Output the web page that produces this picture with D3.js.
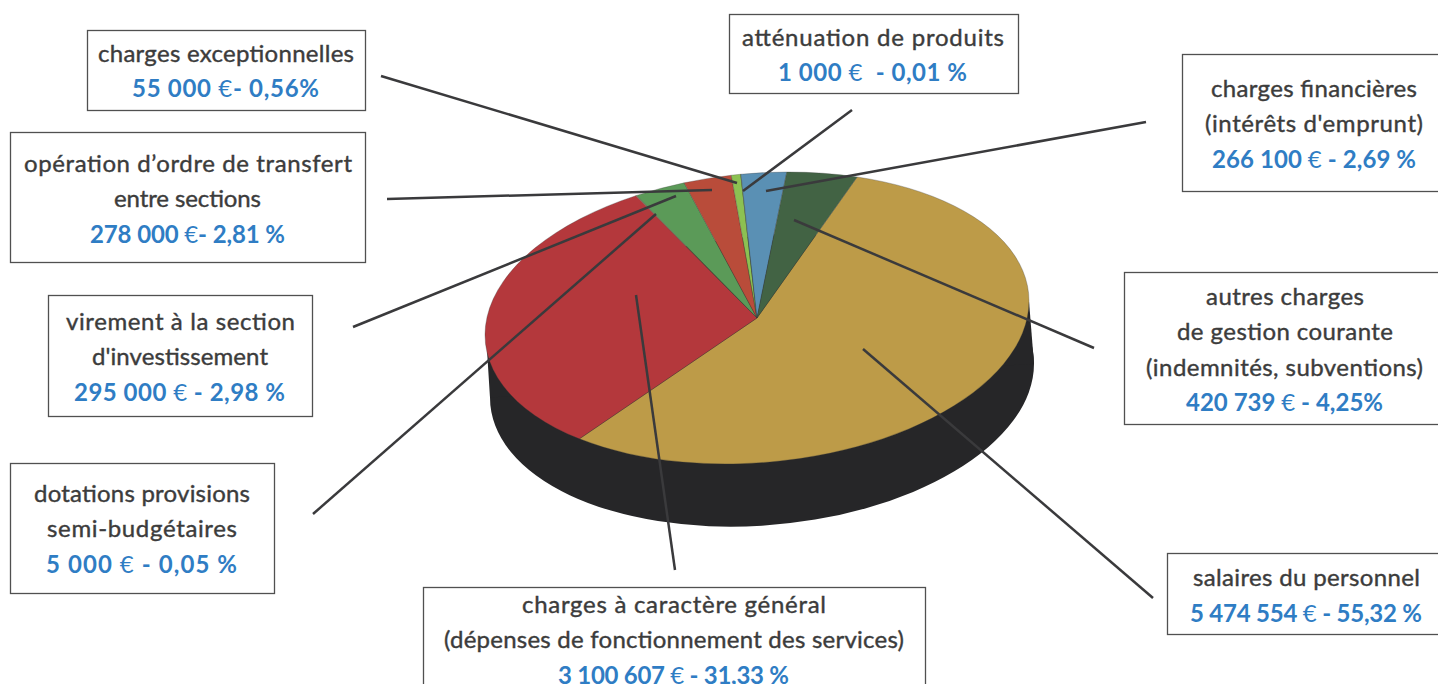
<!DOCTYPE html>
<html>
<head>
<meta charset="utf-8">
<script src="https://d3js.org/d3.v7.min.js"></script>
<style>
html, body { margin: 0; padding: 0; background: #fff; overflow: hidden; }
text { font-family: Lato, "Open Sans", sans-serif; text-anchor: middle; white-space: pre; }
</style>
</head>
<body>
<svg id="chart" width="1438" height="684"></svg>
<script>
// Slices, clockwise from the gold one
var categories = [
    "salaires du personnel",
    "charges à caractère général",
    "dotations provisions semi-budgétaires",
    "virement à la section d'investissement",
    "opération d'ordre de transfert entre sections",
    "charges exceptionnelles",
    "atténuation de produits",
    "charges financières",
    "autres charges de gestion courante"
];
var values = [5474554, 3100607, 5000, 295000, 278000, 55000, 1000, 266100, 420739];
var colors = ["#bd9b48", "#b4383c", "#a5824f", "#5b9a58", "#b94c3a", "#8cc152", "#8cc152", "#5a90b4", "#426344"];

// Text of each label box, same order as the slices
var titles = [
    ["salaires du personnel"],
    ["charges à caractère général", "(dépenses de fonctionnement des services)"],
    ["dotations provisions", "semi-budgétaires"],
    ["virement à la section", "d'investissement"],
    ["opération d’ordre de transfert", "entre sections"],
    ["charges exceptionnelles"],
    ["atténuation de produits"],
    ["charges financières", "(intérêts d'emprunt)"],
    ["autres charges", "de gestion courante", "(indemnités, subventions)"]
];
var amounts = [
    "5 474 554 € - 55,32 %",
    "3 100 607 € - 31,33 %",
    "5 000 € - 0,05 %",
    "295 000 € - 2,98 %",
    "278 000 €- 2,81 %",
    "55 000 €- 0,56%",
    "1 000 €  - 0,01 %",
    "266 100 € - 2,69 %",
    "420 739 € - 4,25%"
];

// Box placement: x0, y0, x1, y1, first baseline
var boxes = [
    [1167, 553, 1445, 634, 586],
    [423, 587, 925, 700, 613],
    [10, 463, 274, 593, 501.5],
    [48, 295, 312, 416, 329.5],
    [10, 132, 365, 262, 171.5],
    [87, 30, 365, 110, 61.5],
    [729, 14, 1018, 93, 45.5],
    [1182, 54, 1445, 191, 97],
    [1124, 272, 1445, 424, 305]
];
// Left and right end of every text line in a box, amount line last
var extents = [
    [[1193, 1420], [1190, 1422]],
    [[522, 826], [444, 904], [558, 789]],
    [[34, 250], [47, 237], [46, 237]],
    [[66, 295], [92, 268], [74, 285]],
    [[24, 352], [114, 261], [90, 285]],
    [[98, 354], [132, 319]],
    [[742, 1004], [778, 967]],
    [[1211, 1417], [1205, 1423], [1212, 1416]],
    [[1206, 1364], [1177, 1393], [1146, 1423], [1186, 1383]]
];
// Leader lines: outer x, y then inner x, y
var leaders = [
    [1153, 598, 863, 349],
    [675, 570, 636, 295],
    [313, 514, 656, 214],
    [353, 327, 676, 196],
    [387, 199, 712, 190],
    [381, 76, 737, 183],
    [852, 110, 743, 191],
    [1146, 122, 766, 191],
    [1094, 348, 794, 220]
];

var cx = 757, cy = 318, rx = 272, ry = 145, depth = 63, skew = 5;
var lean = -0.062;   // the disc is drawn tilted, right side higher
var lineGap = 35.3;

var svg = d3.select("#chart");

var pie = d3.pie().sort(null).startAngle(21.6 * Math.PI / 180).endAngle(381.6 * Math.PI / 180);
var arc = d3.arc().innerRadius(0).outerRadius(rx);
var tilt = "translate(" + cx + "," + cy + ") matrix(1," + lean + ",0,1,0,0)";

// Side of the disc: lower ellipse plus the band up to the top one
var side = svg.append("g").attr("transform", tilt);
side.append("ellipse")
    .attr("cx", skew)
    .attr("cy", depth)
    .attr("rx", rx)
    .attr("ry", ry)
    .attr("fill", "#262628");
side.append("path")
    .attr("d", d3.line()([[-rx + 1, 0], [rx, 0], [rx + skew, depth], [-rx + skew, depth]]))
    .attr("fill", "#262628");

svg.append("g")
    .attr("transform", tilt + " scale(1," + (ry / rx) + ")")
    .selectAll("path")
    .data(pie(values))
    .enter()
    .append("path")
    .attr("d", arc)
    .attr("fill", (d, i) => colors[i])
    .attr("stroke", "#3a3a3a")
    .attr("stroke-opacity", 0.5)
    .attr("stroke-width", 0.6)
    .attr("vector-effect", "non-scaling-stroke");

svg.selectAll("line.leader")
    .data(leaders)
    .enter()
    .append("line")
    .attr("class", "leader")
    .attr("x1", (d) => d[0])
    .attr("y1", (d) => d[1])
    .attr("x2", (d) => d[2])
    .attr("y2", (d) => d[3])
    .attr("stroke", "#3a3a3c")
    .attr("stroke-width", 2.5);

var labels = svg.selectAll("g.label")
    .data(categories)
    .enter()
    .append("g")
    .attr("class", "label");

labels.append("rect")
    .attr("x", (d, i) => boxes[i][0] + 0.5)
    .attr("y", (d, i) => boxes[i][1] + 0.5)
    .attr("width", (d, i) => boxes[i][2] - boxes[i][0])
    .attr("height", (d, i) => boxes[i][3] - boxes[i][1])
    .attr("fill", "#fff")
    .attr("stroke", "#505050")
    .attr("stroke-width", 1.3);

labels.each(function (d, i) {
    var g = d3.select(this);
    var b = boxes[i];
    var ext = extents[i];
    titles[i].forEach(function (line, k) {
        g.append("text")
            .attr("x", (ext[k][0] + ext[k][1]) / 2)
            .attr("y", b[4] + k * lineGap)
            .attr("font-size", 24)
            .attr("textLength", ext[k][1] - ext[k][0])
            .attr("fill", "#3c3c3c")
            .attr("stroke", "#3c3c3c")
            .attr("stroke-width", 0.4)
            .text(line);
    });
    // amount line, with a thin euro sign as in the original
    var n = titles[i].length;
    var parts = amounts[i].split("€");
    var amount = g.append("text")
        .attr("x", (ext[n][0] + ext[n][1]) / 2)
        .attr("y", b[4] + n * lineGap + 0.5)
        .attr("font-size", 24)
        .attr("font-weight", 700)
        .attr("textLength", ext[n][1] - ext[n][0])
        .attr("fill", "#2f7dc4");
    amount.append("tspan").text(parts[0]);
    amount.append("tspan").attr("font-weight", 400).text("€");
    amount.append("tspan").text(parts[1]);
});
</script>
</body>
</html>
